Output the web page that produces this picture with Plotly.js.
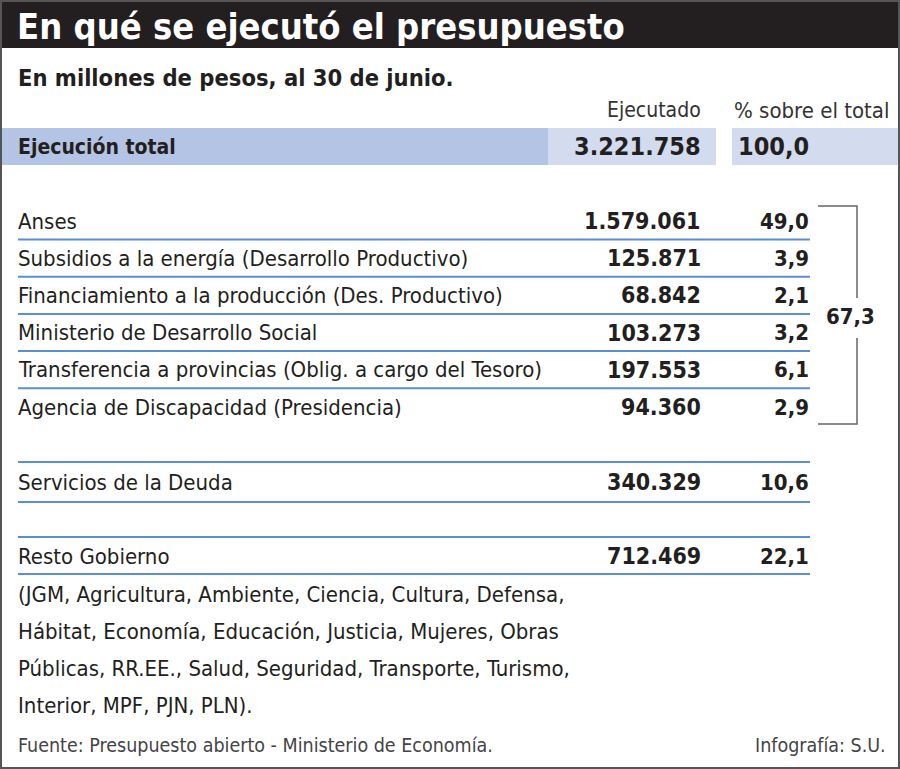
<!DOCTYPE html>
<html><head><meta charset="utf-8">
<script src="https://cdn.plot.ly/plotly-3.0.1.min.js"></script>
<style>html,body{margin:0;padding:0;background:#fff;}#chart{width:900px;height:769px;}</style>
</head><body><div id="chart"></div>
<script>
// ---- data ----
var title = "En qué se ejecutó el presupuesto";
var subtitle = "En millones de pesos, al 30 de junio.";
var colHeaders = ["Ejecutado", "% sobre el total"];
var totalLabel = "Ejecución total";
var totalValue = "3.221.758";
var totalPct = "100,0";
var groupLabels = ["Anses", "Subsidios a la energía (Desarrollo Productivo)", "Financiamiento a la producción (Des. Productivo)", "Ministerio de Desarrollo Social", "Transferencia a provincias (Oblig. a cargo del Tesoro)", "Agencia de Discapacidad (Presidencia)"];
var groupValues = ["1.579.061", "125.871", "68.842", "103.273", "197.553", "94.360"];
var groupPcts = ["49,0", "3,9", "2,1", "3,2", "6,1", "2,9"];
var groupSum = "67,3";
var debtLabel = "Servicios de la Deuda";
var debtValue = "340.329";
var debtPct = "10,6";
var restLabel = "Resto Gobierno";
var restValue = "712.469";
var restPct = "22,1";
var restDetail = ["(JGM, Agricultura, Ambiente, Ciencia, Cultura, Defensa,", "Hábitat, Economía, Educación, Justicia, Mujeres, Obras", "Públicas, RR.EE., Salud, Seguridad, Transporte, Turismo,", "Interior, MPF, PJN, PLN)."];
var source = "Fuente: Presupuesto abierto - Ministerio de Economía.";
var credit = "Infografía: S.U.";

// ---- layout constants ----
var FONT = "'Liberation Sans Narrow', 'DejaVu Sans Condensed', 'Arial Narrow', sans-serif";
var INK = "#231f20";
var BLUE = "#5b8fd0";
var xLabel = 16, xVal = 703, xPct = 811;
var rowStart = 221, rowStep = 37.2;
var ann = [], shapes = [];

function txt(x, y, t, size, anchor, opts) {
  opts = opts || {};
  ann.push({x: x, y: y, xref: 'x', yref: 'y', text: t, showarrow: false,
    xanchor: anchor, yanchor: 'middle',
    font: {family: opts.family || FONT, size: size, color: opts.color || INK, weight: opts.weight || 'normal'}});
}
function bold(t){ return '<b>' + t + '</b>'; }
function hline(y, x0, x1, color, w) {
  shapes.push({type: 'line', xref: 'x', yref: 'y', x0: x0, x1: x1, y0: y, y1: y, line: {color: color || BLUE, width: w || 2}});
}
function rect(x0, y0, x1, y1, color) {
  shapes.push({type: 'rect', xref: 'x', yref: 'y', x0: x0, x1: x1, y0: y0, y1: y1, fillcolor: color, line: {width: 0}, layer: 'below'});
}

// frame and header
rect(0, 0, 900, 48, "#231f20");
shapes.push({type: 'rect', xref: 'x', yref: 'y', x0: 1, x1: 899, y0: 1, y1: 768, line: {color: '#555', width: 2}, fillcolor: 'rgba(0,0,0,0)'});
txt(xLabel - 1, 26, bold(title), 36, 'left', {color: '#fff'});
txt(xLabel, 78, bold(subtitle), 23.5, 'left');
txt(xVal, 110, colHeaders[0], 21, 'right', {color: '#333'});
txt(891, 110, colHeaders[1], 22, 'right', {color: '#333'});

// total band
rect(0, 128, 548, 165, "#b4c4e4");
rect(548, 128, 716, 165, "#d3dbef");
rect(732, 128, 900, 165, "#d3dbef");
txt(xLabel, 147, bold(totalLabel), 21, 'left');
txt(xVal, 146, bold(totalValue), 25, 'right');
txt(xPct, 146, bold(totalPct), 25, 'right');

// group rows
groupLabels.forEach(function (lab, i) {
  var y = rowStart + i * rowStep;
  txt(xLabel, y, lab, 22, 'left');
  txt(xVal, y, bold(groupValues[i]), 23, 'right');
  txt(xPct, y, bold(groupPcts[i]), 22, 'right');
  if (i < groupLabels.length - 1) hline(y + 18.5, 18, 810);
});
// bracket
var bTop = 206, bBot = 424, bX = 857;
shapes.push({type: 'path', xref: 'x', yref: 'y', path: 'M 818 ' + bTop + ' L ' + bX + ' ' + bTop + ' L ' + bX + ' 298', line: {color: '#666', width: 1.5}});
shapes.push({type: 'path', xref: 'x', yref: 'y', path: 'M ' + bX + ' 338 L ' + bX + ' ' + bBot + ' L 818 ' + bBot, line: {color: '#666', width: 1.5}});
txt(850, 316, bold(groupSum), 22, 'center');

// debt
hline(462, 18, 810);
txt(xLabel, 482, debtLabel, 22, 'left');
txt(xVal, 482, bold(debtValue), 23, 'right');
txt(xPct, 482, bold(debtPct), 22, 'right');
hline(502, 18, 810);

// rest
hline(537, 18, 810);
txt(xLabel, 556, restLabel, 22, 'left');
txt(xVal, 556, bold(restValue), 23, 'right');
txt(xPct, 556, bold(restPct), 22, 'right');
hline(574, 18, 810);
restDetail.forEach(function (l, i) {
  txt(xLabel, 594 + i * 37, l, 22, 'left');
});

// footer
txt(xLabel, 745, source, 19.5, 'left', {color: '#444'});
txt(888, 745, credit, 19.5, 'right', {color: '#444'});

var layout = {
  width: 900, height: 769, margin: {l: 0, r: 0, t: 0, b: 0},
  paper_bgcolor: '#fff', plot_bgcolor: '#fff', showlegend: false,
  xaxis: {range: [0, 900], visible: false, fixedrange: true},
  yaxis: {range: [769, 0], visible: false, fixedrange: true},
  annotations: ann, shapes: shapes
};
Plotly.newPlot('chart', [{x: [], y: [], type: 'scatter', mode: 'markers', hoverinfo: 'skip'}], layout, {displayModeBar: false, staticPlot: true});
</script></body></html>
